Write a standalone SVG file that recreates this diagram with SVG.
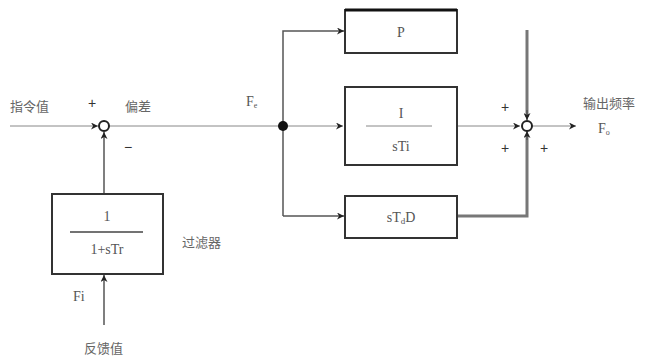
<svg xmlns="http://www.w3.org/2000/svg" width="645" height="356" viewBox="0 0 645 356">
<style>
.t{font-family:"Liberation Serif","Noto Sans CJK SC",serif;fill:#555;font-size:14px}
.c{font-family:"Noto Sans CJK SC","Liberation Sans",sans-serif;fill:#666;font-size:13px}
.s{font-family:"Liberation Sans",sans-serif;fill:#333;font-size:14px}
.thin{stroke:#888;stroke-width:1;fill:none}
.mid{stroke:#555;stroke-width:1.5;fill:none}
.thick{stroke:#777;stroke-width:3;fill:none}
.box{fill:#fff;stroke:#333;stroke-width:2}
</style>
<defs>
<marker id="a" viewBox="0 0 10 10" refX="10" refY="5" markerWidth="9" markerHeight="7" markerUnits="userSpaceOnUse" orient="auto">
<path d="M0,0 L10,5 L0,10 L3,5 Z" fill="#222"/>
</marker>
</defs>
<g id="connectors">
<line class="thin" x1="10" y1="126" x2="98" y2="126" marker-end="url(#a)"/>
<line class="thin" x1="109" y1="126" x2="283" y2="126"/>
<line class="mid" x1="104" y1="193" x2="104" y2="132" marker-end="url(#a)"/>
<line class="mid" x1="104" y1="325" x2="104" y2="275" marker-end="url(#a)"/>
<path class="mid" d="M283,216 L283,31 L344,31" marker-end="url(#a)"/>
<line class="thin" x1="283" y1="126" x2="343" y2="126" marker-end="url(#a)"/>
<line class="mid" x1="283" y1="216" x2="344" y2="216" marker-end="url(#a)"/>
<line class="thin" x1="457" y1="126" x2="520" y2="126" marker-end="url(#a)"/>
<line class="thick" x1="527" y1="30" x2="527" y2="117"/>
<line class="mid" x1="527" y1="110" x2="527" y2="120" marker-end="url(#a)"/>
<path class="thick" d="M457,216 L527,216 L527,135"/>
<line class="mid" x1="527" y1="140" x2="527" y2="131" marker-end="url(#a)"/>
<line class="thin" x1="532" y1="126" x2="576" y2="126" marker-end="url(#a)"/>
<circle cx="283" cy="126" r="5" fill="#111"/>
</g>
<g id="sum1">
<circle cx="104" cy="126" r="5" fill="#fff" stroke="#222" stroke-width="2"/>
<text class="s" x="92" y="108" text-anchor="middle">+</text>
<text class="s" x="128" y="152" text-anchor="middle">−</text>
</g>
<g id="sum2">
<circle cx="527" cy="126" r="5" fill="#fff" stroke="#222" stroke-width="2"/>
<text class="s" x="505" y="112" text-anchor="middle">+</text>
<text class="s" x="505" y="153" text-anchor="middle">+</text>
<text class="s" x="544" y="153" text-anchor="middle">+</text>
</g>
<g id="filter">
<rect class="box" x="52" y="194" width="111" height="80" stroke-width="3"/>
<text class="t" x="107" y="221" text-anchor="middle" font-size="15">1</text>
<line x1="70" y1="232" x2="143" y2="232" stroke="#444" stroke-width="1.5"/>
<text class="t" x="107" y="254" text-anchor="middle">1+sTr</text>
</g>
<g id="P">
<rect class="box" x="345" y="10" width="112" height="43"/>
<line x1="345" y1="10" x2="457" y2="10" stroke="#111" stroke-width="3"/>
<text class="t" x="401" y="37" text-anchor="middle" font-size="15">P</text>
</g>
<g id="I">
<rect class="box" x="345" y="87" width="112" height="78"/>
<text class="t" x="401" y="118" text-anchor="middle" font-size="17">I</text>
<line x1="366" y1="126" x2="432" y2="126" stroke="#888" stroke-width="1"/>
<text class="t" x="401" y="151" text-anchor="middle" font-size="15">sTi</text>
</g>
<g id="D">
<rect class="box" x="345" y="196" width="112" height="42"/>
<text class="t" x="401" y="222" text-anchor="middle">sT<tspan font-size="9" dy="2">d</tspan><tspan dy="-2">D</tspan></text>
</g>
<g id="labels">
<text class="c" x="10" y="111">指令值</text>
<text class="c" x="125" y="111">偏差</text>
<text class="t" x="246" y="106">F<tspan font-size="8" dy="2">e</tspan></text>
<text class="c" x="182" y="247">过滤器</text>
<text class="t" x="73" y="301">Fi</text>
<text class="c" x="84" y="353">反馈值</text>
<text class="c" x="583" y="108">输出频率</text>
<text class="t" x="598" y="133">F<tspan font-size="8" dy="2">o</tspan></text>
</g>
</svg>
